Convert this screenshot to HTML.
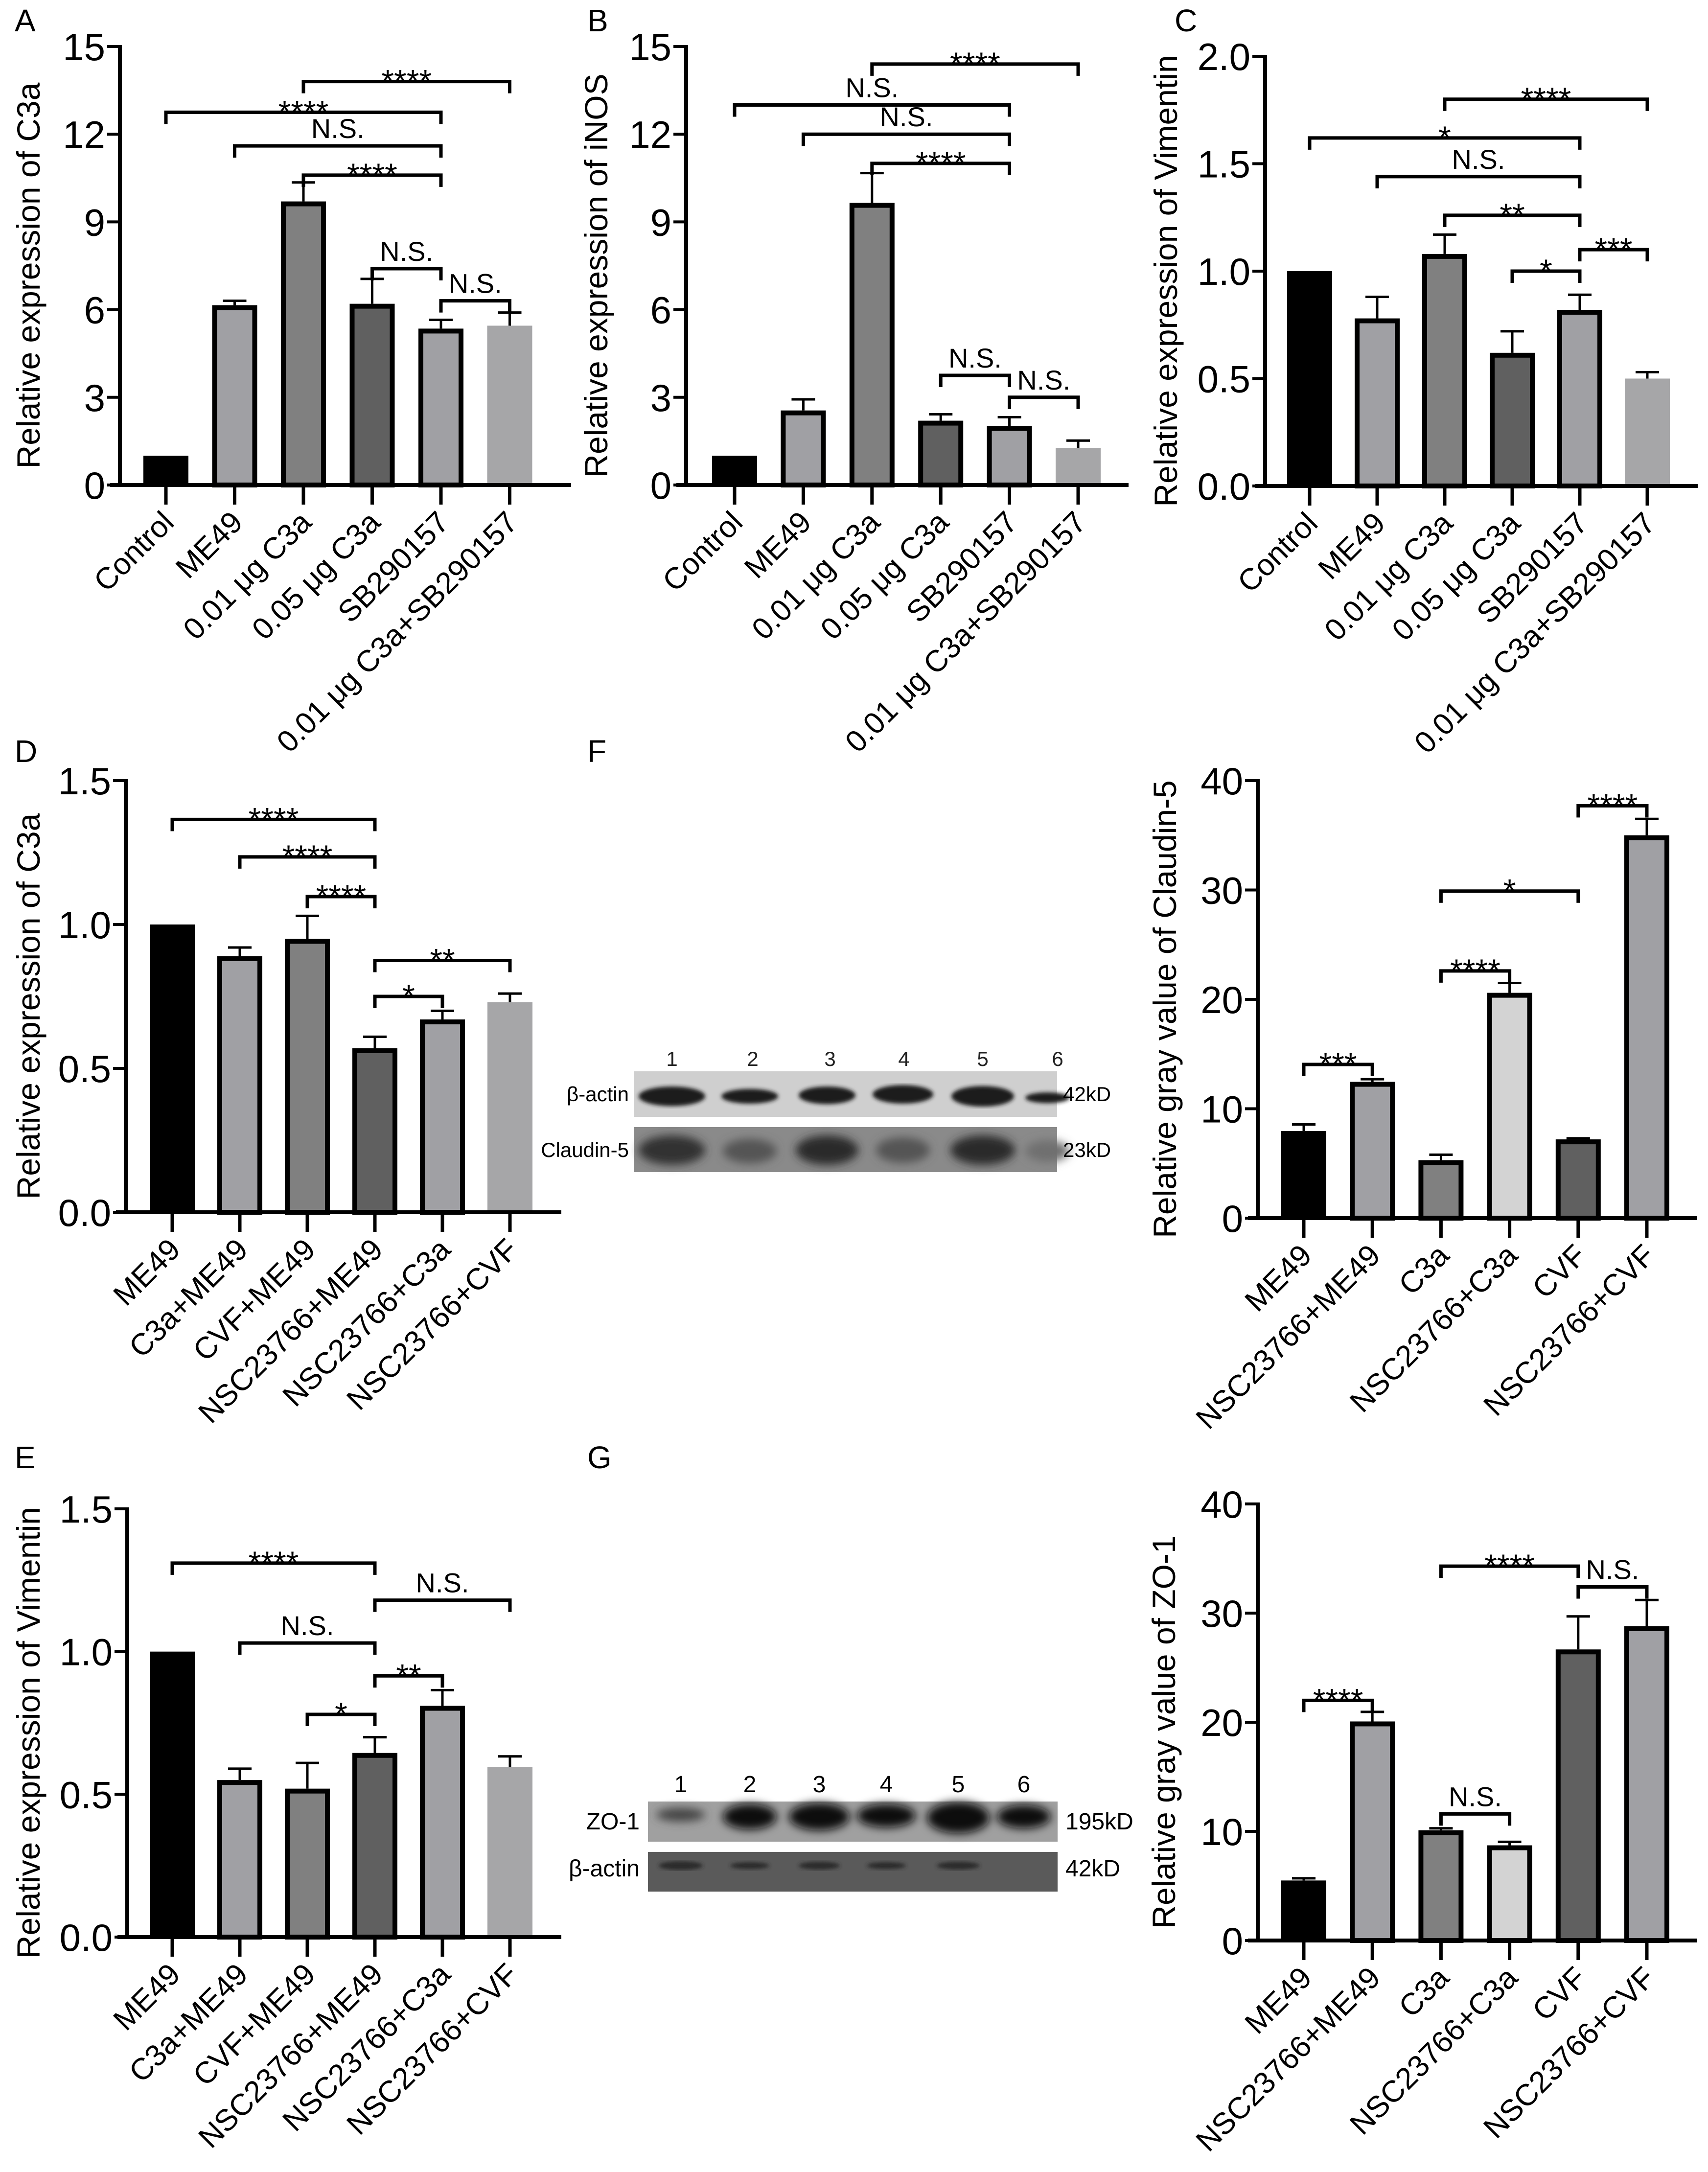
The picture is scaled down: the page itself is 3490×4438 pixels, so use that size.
<!DOCTYPE html>
<html><head><meta charset="utf-8"><style>
html,body{margin:0;padding:0;background:#fff;}
svg{display:block;font-family:"Liberation Sans",Arial,sans-serif;}
</style></head><body>
<svg id="fig" xmlns="http://www.w3.org/2000/svg" width="3490" height="4438" viewBox="0 0 3490 4438">
<defs>
<filter id="blur6" x="-30%" y="-60%" width="160%" height="220%"><feGaussianBlur stdDeviation="9"/></filter>
<filter id="blur3"><feGaussianBlur stdDeviation="4"/></filter>
</defs>
<g id="letters" font-size="64" fill="#000">
<text x="30" y="64">A</text>
<text x="1200" y="64">B</text>
<text x="2400" y="64">C</text>
<text x="30" y="1557">D</text>
<text x="1200" y="1557">F</text>
<text x="30" y="3000">E</text>
<text x="1200" y="3000">G</text>
</g>
<!-- Blot F -->
<g>
<rect x="1295" y="2189" width="865" height="93" fill="#cfcfcf"/>
<rect x="1295" y="2303" width="865" height="92" fill="#8a8a8a"/>
<g filter="url(#blur3)" fill="#1a1a1a">
<ellipse cx="1373" cy="2240" rx="68" ry="20"/><ellipse cx="1532" cy="2240" rx="58" ry="15"/>
<ellipse cx="1690" cy="2238" rx="58" ry="18"/><ellipse cx="1845" cy="2236" rx="62" ry="19"/>
<ellipse cx="2008" cy="2240" rx="64" ry="21"/><ellipse cx="2140" cy="2243" rx="45" ry="11"/>
</g>
<g filter="url(#blur6)">
<ellipse cx="1373" cy="2350" rx="68" ry="30" fill="#333"/><ellipse cx="1532" cy="2352" rx="55" ry="25" fill="#555"/>
<ellipse cx="1690" cy="2350" rx="64" ry="30" fill="#2a2a2a"/><ellipse cx="1845" cy="2350" rx="55" ry="26" fill="#555"/>
<ellipse cx="2008" cy="2350" rx="66" ry="30" fill="#2a2a2a"/><ellipse cx="2140" cy="2352" rx="45" ry="22" fill="#707070"/>
</g>
<g font-size="42" fill="#222" text-anchor="middle">
<text x="1373" y="2178">1</text><text x="1538" y="2178">2</text><text x="1696" y="2178">3</text>
<text x="1847" y="2178">4</text><text x="2008" y="2178">5</text><text x="2161" y="2178">6</text>
</g>
<text x="1285" y="2250" font-size="42" text-anchor="end">β-actin</text>
<text x="1285" y="2364" font-size="42" text-anchor="end">Claudin-5</text>
<text x="2172" y="2250" font-size="42">42kD</text>
<text x="2172" y="2364" font-size="42">23kD</text>
</g>
<!-- Blot G -->
<g>
<rect x="1324" y="3681" width="837" height="82" fill="#a0a0a0"/>
<rect x="1324" y="3784" width="837" height="81" fill="#5a5a5a"/>
<g filter="url(#blur6)" fill="#0a0a0a">
<ellipse cx="1391" cy="3708" rx="50" ry="14" fill="#444"/><ellipse cx="1532" cy="3712" rx="55" ry="26"/>
<ellipse cx="1674" cy="3712" rx="62" ry="28"/><ellipse cx="1811" cy="3710" rx="60" ry="24"/>
<ellipse cx="1958" cy="3714" rx="64" ry="32"/><ellipse cx="2092" cy="3712" rx="55" ry="24"/>
</g>
<g filter="url(#blur3)" fill="#2a2a2a">
<ellipse cx="1391" cy="3812" rx="45" ry="9"/><ellipse cx="1532" cy="3812" rx="40" ry="7"/>
<ellipse cx="1674" cy="3812" rx="42" ry="8"/><ellipse cx="1811" cy="3812" rx="40" ry="7"/>
<ellipse cx="1958" cy="3812" rx="44" ry="8"/>
</g>
<g font-size="48" fill="#000" text-anchor="middle">
<text x="1391" y="3662">1</text><text x="1532" y="3662">2</text><text x="1674" y="3662">3</text>
<text x="1811" y="3662">4</text><text x="1958" y="3662">5</text><text x="2092" y="3662">6</text>
</g>
<text x="1307" y="3738" font-size="48" text-anchor="end">ZO-1</text>
<text x="1307" y="3834" font-size="48" text-anchor="end">β-actin</text>
<text x="2177" y="3738" font-size="48">195kD</text>
<text x="2177" y="3834" font-size="48">42kD</text>
</g>
</svg>
<script>
// ---------- data ----------
const abcCats = ["Control","ME49","0.01 μg C3a","0.05 μg C3a","SB290157","0.01 μg C3a+SB290157"];
const deCats = ["ME49","C3a+ME49","CVF+ME49","NSC23766+ME49","NSC23766+C3a","NSC23766+CVF"];
const fgCats = ["ME49","NSC23766+ME49","C3a","NSC23766+C3a","CVF","NSC23766+CVF"];

const aVals = [1.0, 6.15, 9.7, 6.2, 5.35, 5.45];
const aErr  = [1.0, 6.3, 10.35, 7.05, 5.65, 5.9];
const aTicks = [0,3,6,9,12,15];
const aTickLabels = ["0","3","6","9","12","15"];
const aBrackets = [[2,5,13.8,"****"],[0,4,12.75,"****"],[1,4,11.6,"N.S."],[2,4,10.6,"****"],[3,4,7.4,"N.S."],[4,5,6.3,"N.S."]];

const bVals = [1.0, 2.55, 9.65, 2.2, 2.02, 1.27];
const bErr  = [1.0, 2.93, 10.67, 2.42, 2.32, 1.52];
const bTicks = [0,3,6,9,12,15];
const bTickLabels = ["0","3","6","9","12","15"];
const bBrackets = [[2,5,14.4,"****"],[0,4,13.0,"N.S."],[1,4,12.0,"N.S."],[2,4,11.0,"****"],[3,4,3.75,"N.S."],[4,5,3.0,"N.S."]];

const cVals = [1.0, 0.78, 1.08, 0.62, 0.82, 0.50];
const cErr  = [1.0, 0.88, 1.17, 0.72, 0.89, 0.53];
const cTicks = [0,0.5,1,1.5,2];
const cTickLabels = ["0.0","0.5","1.0","1.5","2.0"];
const cBrackets = [[2,5,1.80,"****"],[0,4,1.62,"*"],[1,4,1.44,"N.S."],[2,4,1.26,"**"],[4,5,1.10,"***"],[3,4,1.0,"*"]];

const dVals = [1.0, 0.89, 0.95, 0.57, 0.67, 0.73];
const dErr  = [1.0, 0.92, 1.03, 0.61, 0.70, 0.76];
const dTicks = [0,0.5,1,1.5];
const dTickLabels = ["0.0","0.5","1.0","1.5"];
const dBrackets = [[0,3,1.365,"****"],[1,3,1.235,"****"],[2,3,1.097,"****"],[3,5,0.875,"**"],[3,4,0.75,"*"]];

const eVals = [1.0, 0.55, 0.52, 0.645, 0.81, 0.595];
const eErr  = [1.0, 0.59, 0.61, 0.70, 0.865, 0.633];
const eTicks = [0,0.5,1,1.5];
const eTickLabels = ["0.0","0.5","1.0","1.5"];
const eBrackets = [[0,3,1.31,"****"],[3,5,1.18,"N.S."],[1,3,1.03,"N.S."],[3,4,0.915,"**"],[2,3,0.78,"*"]];

const fVals = [7.96, 12.46, 5.3, 20.6, 7.2, 35.0];
const fErr  = [8.57, 12.7, 5.8, 21.5, 7.3, 36.5];
const fTicks = [0,10,20,30,40];
const fTickLabels = ["0","10","20","30","40"];
const fBrackets = [[0,1,14.05,"***"],[2,3,22.6,"****"],[2,4,29.9,"*"],[4,5,37.7,"****"]];

const gVals = [5.5, 20.07, 10.1, 8.72, 26.67, 28.8];
const gErr  = [5.7, 20.95, 10.28, 9.04, 29.7, 31.2];
const gTicks = [0,10,20,30,40];
const gTickLabels = ["0","10","20","30","40"];
const gBrackets = [[0,1,22.0,"****"],[2,3,11.6,"N.S."],[2,4,34.3,"****"],[4,5,32.4,"N.S."]];

// ---------- styles (not data) ----------
const fillsABC = ["#000","#a0a0a4","#808080","#606060","#a0a0a4","#a6a6a8"];
const bordABC = [false,true,true,true,true,false];
const fillsFG = ["#000","#a0a0a4","#808080","#d3d3d3","#606060","#a0a0a4"];
const bordFG = [false,true,true,true,true,true];

const NS = "http://www.w3.org/2000/svg";
const svg = document.getElementById('fig');
function mk(tag, attrs, parent){
  const e = document.createElementNS(NS, tag);
  for (const k in attrs) e.setAttribute(k, attrs[k]);
  (parent||svg).appendChild(e);
  return e;
}

function chart(cfg){
  const g = mk('g', {});
  
  
  const ymax = cfg.ticks[cfg.ticks.length-1];
  const yS = v => cfg.y0 - (v/ymax)*(cfg.y0-cfg.yTop);
  const xS = i => cfg.x0 + cfg.first + i*cfg.step;
  const bw = 92;
  cfg.vals.forEach((v,i)=>{
    const cx = xS(i), top = yS(v);
    const e = cfg.err[i];
    if (e > v){
      const ln = mk('path', {d:`M${cx} ${top} V${yS(e)} M${cx-24} ${yS(e)} H${cx+24}`, stroke:'#000','stroke-width':5, fill:'none'}, g);
      
      
    }
    let r;
    if (cfg.bord[i]) {
      r = mk('rect', {x:cx-bw/2+5, y:top+5, width:bw-10, height:cfg.y0-top-5, fill:cfg.fills[i], stroke:'#000','stroke-width':10}, g);
    } else {
      r = mk('rect', {x:cx-bw/2, y:top, width:bw, height:cfg.y0-top, fill:cfg.fills[i]}, g);
    }
    
    
  });
  const ya = mk('path', {d:`M${cfg.x0} ${cfg.y0+4} V${cfg.yTop-3}`, stroke:'#000','stroke-width':8, fill:'none'}, g);
  
  
  const xa = mk('path', {d:`M${cfg.x0-20} ${cfg.y0} H${cfg.xEnd}`, stroke:'#000','stroke-width':8, fill:'none'}, g);
  
  
  cfg.ticks.forEach((t,k)=>{
    const y = yS(t);
    mk('path', {d:`M${cfg.x0-26} ${y} H${cfg.x0}`, stroke:'#000','stroke-width':6}, g);
    const tl = mk('text', {x:cfg.x0-30, y:y+28, 'font-size':78, 'text-anchor':'end'}, g);
    tl.textContent = cfg.tickLabels[k];
    
    
  });
  cfg.cats.forEach((c,i)=>{
    const cx = xS(i);
    mk('path', {d:`M${cx} ${cfg.y0} V${cfg.y0+40}`, stroke:'#000','stroke-width':7}, g);
    const tx = cx+20, ty = cfg.y0+80;
    const t = mk('text', {x:tx, y:ty, 'font-size':62, 'text-anchor':'end', transform:`rotate(-45 ${tx} ${ty})`}, g);
    t.textContent = c;
    
    
  });
  const ty = (cfg.y0+cfg.yTop)/2 + 20;
  const tt = mk('text', {x:cfg.titleX, y:ty, 'font-size':66, 'text-anchor':'middle', transform:`rotate(-90 ${cfg.titleX} ${ty})`, 'dominant-baseline':'central'}, g);
  tt.textContent = cfg.title;
  
  
  cfg.brackets.forEach(b=>{
    const x1 = xS(b[0]), x2 = xS(b[1]), y = yS(b[2]);
    const p = mk('path', {d:`M${x1} ${y+24} V${y} H${x2} V${y+24}`, stroke:'#000','stroke-width':7, fill:'none'}, g);
    
    
    const isNS = b[3]==="N.S.";
    const lt = mk('text', {x:(x1+x2)/2, y: isNS ? y-16 : y+22, 'font-size': isNS?56:66, 'text-anchor':'middle'}, g);
    lt.textContent = b[3];
    
    
  });
}

chart({name:'chart-a-c3a', cats:abcCats, vals:aVals, err:aErr, ticks:aTicks, tickLabels:aTickLabels, brackets:aBrackets,
  fills:fillsABC, bord:bordABC, x0:245, first:94, step:140.5, xEnd:1167, y0:991, yTop:95, titleX:58, title:"Relative expression of C3a"});
chart({name:'chart-b-inos', cats:abcCats, vals:bVals, err:bErr, ticks:bTicks, tickLabels:bTickLabels, brackets:bBrackets,
  fills:fillsABC, bord:bordABC, x0:1402, first:99, step:140.4, xEnd:2306, y0:991, yTop:95, titleX:1218, title:"Relative expression of iNOS"});
chart({name:'chart-c-vimentin', cats:abcCats, vals:cVals, err:cErr, ticks:cTicks, tickLabels:cTickLabels, brackets:cBrackets,
  fills:fillsABC, bord:bordABC, x0:2585, first:91, step:138, xEnd:3469, y0:993, yTop:115, titleX:2382, title:"Relative expression of Vimentin"});
chart({name:'chart-d-c3a', cats:deCats, vals:dVals, err:dErr, ticks:dTicks, tickLabels:dTickLabels, brackets:dBrackets,
  fills:fillsABC, bord:bordABC, x0:257, first:95, step:138, xEnd:1147, y0:2477, yTop:1595, titleX:58, title:"Relative expression of C3a"});
chart({name:'chart-e-vimentin', cats:deCats, vals:eVals, err:eErr, ticks:eTicks, tickLabels:eTickLabels, brackets:eBrackets,
  fills:fillsABC, bord:bordABC, x0:260, first:92, step:138, xEnd:1147, y0:3958, yTop:3083, titleX:58, title:"Relative expression of Vimentin"});
chart({name:'chart-f-claudin5', cats:fgCats, vals:fVals, err:fErr, ticks:fTicks, tickLabels:fTickLabels, brackets:fBrackets,
  fills:fillsFG, bord:bordFG, x0:2570, first:94, step:140.2, xEnd:3468, y0:2489, yTop:1595, titleX:2380, title:"Relative gray value of Claudin-5"});
chart({name:'chart-g-zo1', cats:fgCats, vals:gVals, err:gErr, ticks:gTicks, tickLabels:gTickLabels, brackets:gBrackets,
  fills:fillsFG, bord:bordFG, x0:2570, first:94, step:140.2, xEnd:3468, y0:3965, yTop:3073, titleX:2378, title:"Relative gray value of ZO-1"});
</script>
</body></html>
